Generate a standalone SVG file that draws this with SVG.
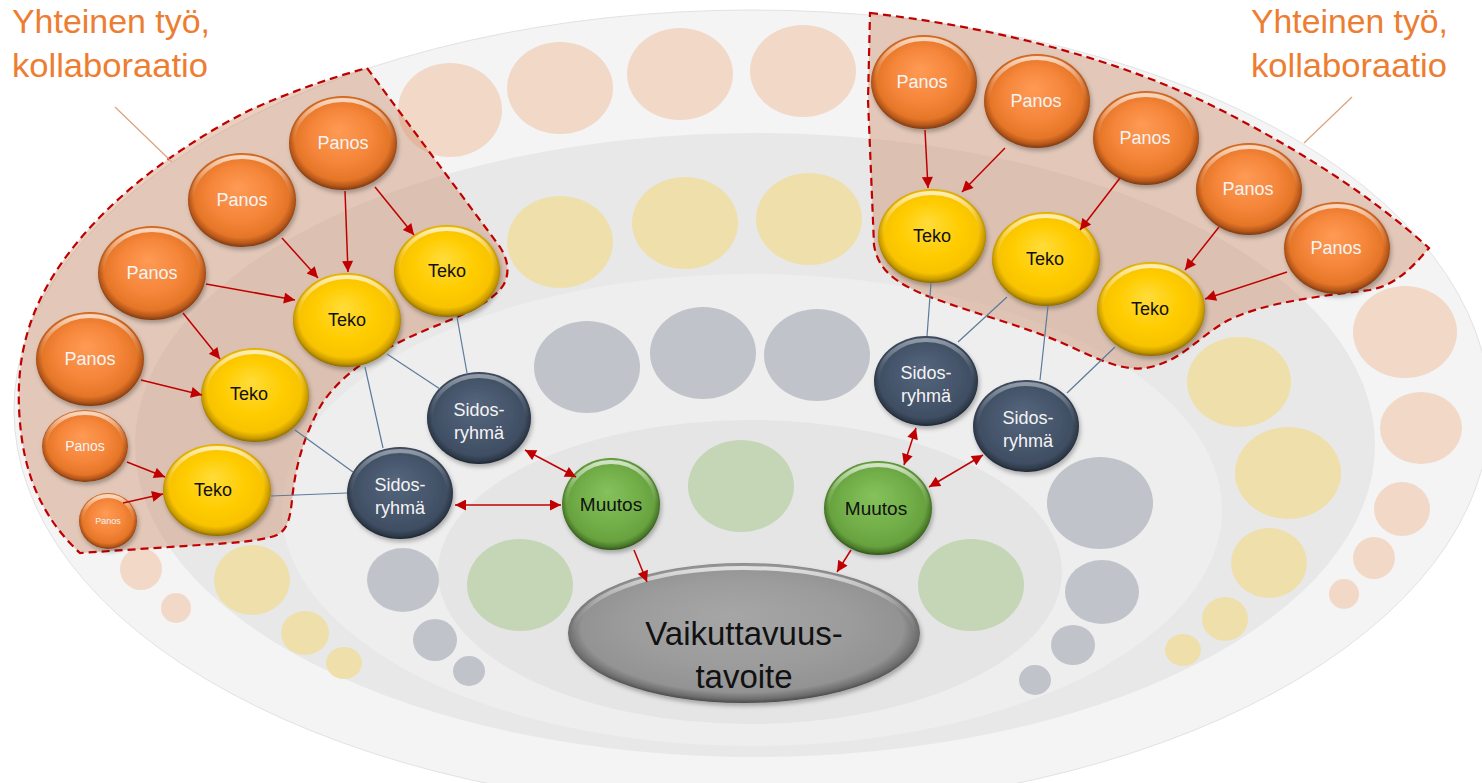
<svg xmlns="http://www.w3.org/2000/svg" width="1482" height="783" viewBox="0 0 1482 783">
<defs>
<style>
.lbl{font-family:"Liberation Sans",Arial,sans-serif;text-anchor:middle}
.w{fill:#f4f4f4}
.k{fill:#111}
.pan{fill:url(#gOr)}
.tek{fill:url(#gYe)}
.sid{fill:url(#gSl)}
.muu{fill:url(#gGr)}
.rim{fill:none;stroke:url(#rim);stroke-width:4}
.ar{stroke:#c00000;stroke-width:1.5;fill:none;marker-end:url(#ah)}
.dar{stroke:#c00000;stroke-width:1.5;fill:none;marker-end:url(#ah);marker-start:url(#ah)}
.ln{stroke:#5b7b9a;stroke-width:1.2;fill:none}
.reg{fill:#c8825a;fill-opacity:0.38;stroke:#c00000;stroke-width:2.2;stroke-dasharray:8 5}
.pe{fill:#f2d8c7}
.ye{fill:#eedfab}
.gy{fill:#c0c4ca}
.gn{fill:#c4d6b6}
.co{font-family:"Liberation Sans",Arial,sans-serif;font-size:34px;fill:#ed7d31}
</style>
<radialGradient id="gOr" cx="50%" cy="48%" r="52%" fx="46%" fy="36%">
<stop offset="0" stop-color="#ff9a55"/><stop offset="0.55" stop-color="#f5863a"/><stop offset="0.84" stop-color="#e57628"/><stop offset="0.94" stop-color="#b5561a"/><stop offset="1" stop-color="#7a3a10"/>
</radialGradient>
<radialGradient id="gYe" cx="50%" cy="48%" r="52%" fx="46%" fy="36%">
<stop offset="0" stop-color="#ffdc3a"/><stop offset="0.55" stop-color="#ffcc00"/><stop offset="0.84" stop-color="#f8c300"/><stop offset="0.94" stop-color="#c89a00"/><stop offset="1" stop-color="#8a6a00"/>
</radialGradient>
<radialGradient id="gSl" cx="50%" cy="48%" r="52%" fx="46%" fy="36%">
<stop offset="0" stop-color="#56667c"/><stop offset="0.6" stop-color="#46566c"/><stop offset="0.86" stop-color="#3f4e62"/><stop offset="0.95" stop-color="#2e3a4a"/><stop offset="1" stop-color="#1e2630"/>
</radialGradient>
<radialGradient id="gGr" cx="50%" cy="48%" r="52%" fx="46%" fy="36%">
<stop offset="0" stop-color="#86c25c"/><stop offset="0.6" stop-color="#72ae48"/><stop offset="0.86" stop-color="#67a23f"/><stop offset="0.95" stop-color="#4a7a2a"/><stop offset="1" stop-color="#2f5219"/>
</radialGradient>
<radialGradient id="gGy" cx="50%" cy="48%" r="52%" fx="46%" fy="36%">
<stop offset="0" stop-color="#a6a6a6"/><stop offset="0.6" stop-color="#9c9c9c"/><stop offset="0.88" stop-color="#939393"/><stop offset="0.96" stop-color="#6c6c6c"/><stop offset="1" stop-color="#4a4a4a"/>
</radialGradient>
<linearGradient id="rim" x1="0" y1="0" x2="0" y2="1">
<stop offset="0" stop-color="#fff" stop-opacity="0.7"/><stop offset="0.3" stop-color="#fff" stop-opacity="0.15"/><stop offset="0.5" stop-color="#fff" stop-opacity="0"/><stop offset="1" stop-color="#fff" stop-opacity="0"/>
</linearGradient>
<filter id="sh" x="-20%" y="-20%" width="140%" height="150%">
<feDropShadow dx="1.5" dy="3" stdDeviation="2" flood-color="#000" flood-opacity="0.28"/>
</filter>
<marker id="ah" viewBox="0 0 10 10" refX="10" refY="5" markerWidth="13" markerHeight="11" markerUnits="userSpaceOnUse" orient="auto-start-reverse">
<path d="M0,0 L10,5 L0,10 z" fill="#c00000"/>
</marker>
</defs>

<rect width="1482" height="783" fill="#ffffff"/>

<g id="background">
<ellipse cx="752" cy="410" rx="738" ry="400" fill="#f4f4f4" stroke="#e2e2e2" stroke-width="1"/>
<ellipse cx="755" cy="445" rx="620" ry="312" fill="#e8e8e8"/>
<ellipse cx="752" cy="510" rx="470" ry="236" fill="#eeeeee"/>
<ellipse cx="750" cy="572" rx="312" ry="152" fill="#e5e5e5"/>
<ellipse class="pe" cx="450" cy="110" rx="52" ry="47"/>
<ellipse class="pe" cx="560" cy="88" rx="53" ry="46"/>
<ellipse class="pe" cx="680" cy="74" rx="53" ry="46"/>
<ellipse class="pe" cx="803" cy="71" rx="53" ry="46"/>
<ellipse class="pe" cx="1405" cy="332" rx="52" ry="46"/>
<ellipse class="pe" cx="1421" cy="428" rx="41" ry="36"/>
<ellipse class="pe" cx="1402" cy="509" rx="28" ry="27"/>
<ellipse class="pe" cx="1374" cy="558" rx="21" ry="21"/>
<ellipse class="pe" cx="1344" cy="594" rx="15" ry="15"/>
<ellipse class="pe" cx="141" cy="569" rx="21" ry="21"/>
<ellipse class="pe" cx="176" cy="608" rx="15" ry="15"/>
<ellipse class="ye" cx="560" cy="242" rx="53" ry="46"/>
<ellipse class="ye" cx="685" cy="223" rx="53" ry="46"/>
<ellipse class="ye" cx="809" cy="219" rx="53" ry="46"/>
<ellipse class="ye" cx="1239" cy="382" rx="52" ry="45"/>
<ellipse class="ye" cx="1288" cy="473" rx="53" ry="46"/>
<ellipse class="ye" cx="1269" cy="563" rx="38" ry="35"/>
<ellipse class="ye" cx="1225" cy="619" rx="23" ry="22"/>
<ellipse class="ye" cx="1183" cy="650" rx="18" ry="16"/>
<ellipse class="ye" cx="252" cy="580" rx="38" ry="35"/>
<ellipse class="ye" cx="305" cy="633" rx="24" ry="22"/>
<ellipse class="ye" cx="344" cy="663" rx="18" ry="16"/>
<ellipse class="gy" cx="587" cy="367" rx="53" ry="46"/>
<ellipse class="gy" cx="703" cy="353" rx="53" ry="46"/>
<ellipse class="gy" cx="817" cy="355" rx="53" ry="46"/>
<ellipse class="gy" cx="1100" cy="503" rx="53" ry="46"/>
<ellipse class="gy" cx="1102" cy="592" rx="37" ry="32"/>
<ellipse class="gy" cx="1073" cy="645" rx="22" ry="20"/>
<ellipse class="gy" cx="1035" cy="680" rx="16" ry="15"/>
<ellipse class="gy" cx="403" cy="580" rx="36" ry="32"/>
<ellipse class="gy" cx="435" cy="640" rx="22" ry="21"/>
<ellipse class="gy" cx="469" cy="671" rx="16" ry="15"/>
<ellipse class="gn" cx="520" cy="585" rx="53" ry="46"/>
<ellipse class="gn" cx="741" cy="486" rx="53" ry="46"/>
<ellipse class="gn" cx="971" cy="585" rx="53" ry="46"/>
</g>

<g id="region-left">
<path class="reg" d="M367,68 L500,247 C507,258 510,270 505,282 C498,298 470,312 443,323 C400,340 345,365 320,407 C302,440 295,470 292,500 C290,520 287,530 277,535 C262,541 232,543 200,545 L80,553 C55,530 30,495 22,440 C15,390 18,340 45,290 C85,215 170,150 250,110 C290,92 330,78 367,68 Z"/>
</g>
<g id="region-right">
<path class="reg" d="M870,13 C1000,28 1120,60 1217,108 C1300,150 1370,195 1429,248 C1410,270 1395,285 1370,290 C1320,296 1260,303 1225,322 C1195,340 1180,362 1146,368 C1120,372 1090,355 1060,342 C1020,325 970,312 930,297 C895,283 878,270 874,245 L868,100 Z"/>
</g>

<g id="callouts">
<line x1="115" y1="107" x2="172" y2="162" stroke="#dda27c" stroke-width="1.2"/>
<line x1="1352" y1="97" x2="1304" y2="143" stroke="#dda27c" stroke-width="1.2"/>
<text class="co" x="12" y="33" textLength="198" lengthAdjust="spacingAndGlyphs">Yhteinen työ,</text>
<text class="co" x="12" y="77" textLength="196" lengthAdjust="spacingAndGlyphs">kollaboraatio</text>
<text class="co" x="1251" y="33" textLength="197" lengthAdjust="spacingAndGlyphs">Yhteinen työ,</text>
<text class="co" x="1251" y="77" textLength="196" lengthAdjust="spacingAndGlyphs">kollaboraatio</text>
</g>

<g id="panos-l1"><ellipse class="pan" cx="343" cy="143" rx="54" ry="47" filter="url(#sh)"/><ellipse class="rim" cx="343" cy="143" rx="50" ry="43"/><text class="lbl w" x="343" y="149" font-size="18">Panos</text></g>
<g id="panos-l2"><ellipse class="pan" cx="242" cy="200" rx="54" ry="47" filter="url(#sh)"/><ellipse class="rim" cx="242" cy="200" rx="50" ry="43"/><text class="lbl w" x="242" y="206" font-size="18">Panos</text></g>
<g id="panos-l3"><ellipse class="pan" cx="152" cy="273" rx="54" ry="47" filter="url(#sh)"/><ellipse class="rim" cx="152" cy="273" rx="50" ry="43"/><text class="lbl w" x="152" y="279" font-size="18">Panos</text></g>
<g id="panos-l4"><ellipse class="pan" cx="90" cy="359" rx="54" ry="47" filter="url(#sh)"/><ellipse class="rim" cx="90" cy="359" rx="50" ry="43"/><text class="lbl w" x="90" y="365" font-size="18">Panos</text></g>
<g id="panos-l5"><ellipse class="pan" cx="85" cy="446" rx="43" ry="36" filter="url(#sh)"/><ellipse class="rim" cx="85" cy="446" rx="40" ry="33"/><text class="lbl w" x="85" y="451" font-size="14">Panos</text></g>
<g id="panos-l6"><ellipse class="pan" cx="108" cy="521" rx="29" ry="28" filter="url(#sh)"/><ellipse class="rim" cx="108" cy="521" rx="26" ry="25" stroke-width="3"/><text class="lbl w" x="108" y="524" font-size="9">Panos</text></g>

<g id="teko-l1"><ellipse class="tek" cx="447" cy="271" rx="53" ry="46" filter="url(#sh)"/><ellipse class="rim" cx="447" cy="271" rx="49" ry="42"/><text class="lbl k" x="447" y="277" font-size="18">Teko</text></g>
<g id="teko-l2"><ellipse class="tek" cx="347" cy="320" rx="54" ry="47" filter="url(#sh)"/><ellipse class="rim" cx="347" cy="320" rx="50" ry="43"/><text class="lbl k" x="347" y="326" font-size="18">Teko</text></g>
<g id="teko-l3"><ellipse class="tek" cx="255" cy="395" rx="54" ry="47" filter="url(#sh)"/><ellipse class="rim" cx="255" cy="395" rx="50" ry="43"/><text class="lbl k" x="249" y="400" font-size="18">Teko</text></g>
<g id="teko-l4"><ellipse class="tek" cx="217" cy="490" rx="54" ry="46" filter="url(#sh)"/><ellipse class="rim" cx="217" cy="490" rx="50" ry="42"/><text class="lbl k" x="213" y="496" font-size="18">Teko</text></g>

<g id="sidos-l1"><ellipse class="sid" cx="479" cy="418" rx="52" ry="46" filter="url(#sh)"/><ellipse class="rim" cx="479" cy="418" rx="48" ry="42" opacity="0.6"/><text class="lbl w" x="479" y="416" font-size="18">Sidos-</text><text class="lbl w" x="479" y="439" font-size="18">ryhmä</text></g>
<g id="sidos-l2"><ellipse class="sid" cx="400" cy="493" rx="53" ry="46" filter="url(#sh)"/><ellipse class="rim" cx="400" cy="493" rx="49" ry="42" opacity="0.6"/><text class="lbl w" x="400" y="491" font-size="18">Sidos-</text><text class="lbl w" x="400" y="514" font-size="18">ryhmä</text></g>

<g id="muutos-l"><ellipse class="muu" cx="611" cy="504" rx="49" ry="46" filter="url(#sh)"/><ellipse class="rim" cx="611" cy="504" rx="45" ry="42"/><text class="lbl k" x="611" y="511" font-size="19">Muutos</text></g>
<g id="muutos-r"><ellipse class="muu" cx="878" cy="508" rx="54" ry="47" filter="url(#sh)"/><ellipse class="rim" cx="878" cy="508" rx="50" ry="43"/><text class="lbl k" x="876" y="515" font-size="19">Muutos</text></g>

<g id="vaikuttavuustavoite"><ellipse cx="744" cy="633" rx="176" ry="70" fill="url(#gGy)" filter="url(#sh)"/><ellipse class="rim" cx="744" cy="633" rx="171" ry="65"/><text class="lbl k" x="744" y="645" font-size="33">Vaikuttavuus-</text><text class="lbl k" x="744" y="688" font-size="33">tavoite</text></g>

<g id="panos-r1"><ellipse class="pan" cx="924" cy="82" rx="53" ry="47" filter="url(#sh)"/><ellipse class="rim" cx="924" cy="82" rx="49" ry="43"/><text class="lbl w" x="922" y="88" font-size="18">Panos</text></g>
<g id="panos-r2"><ellipse class="pan" cx="1037" cy="101" rx="53" ry="47" filter="url(#sh)"/><ellipse class="rim" cx="1037" cy="101" rx="49" ry="43"/><text class="lbl w" x="1036" y="107" font-size="18">Panos</text></g>
<g id="panos-r3"><ellipse class="pan" cx="1146" cy="138" rx="53" ry="47" filter="url(#sh)"/><ellipse class="rim" cx="1146" cy="138" rx="49" ry="43"/><text class="lbl w" x="1145" y="144" font-size="18">Panos</text></g>
<g id="panos-r4"><ellipse class="pan" cx="1249" cy="189" rx="53" ry="46" filter="url(#sh)"/><ellipse class="rim" cx="1249" cy="189" rx="49" ry="42"/><text class="lbl w" x="1248" y="195" font-size="18">Panos</text></g>
<g id="panos-r5"><ellipse class="pan" cx="1337" cy="248" rx="53" ry="46" filter="url(#sh)"/><ellipse class="rim" cx="1337" cy="248" rx="49" ry="42"/><text class="lbl w" x="1336" y="254" font-size="18">Panos</text></g>

<g id="teko-r1"><ellipse class="tek" cx="932" cy="236" rx="54" ry="47" filter="url(#sh)"/><ellipse class="rim" cx="932" cy="236" rx="50" ry="43"/><text class="lbl k" x="932" y="242" font-size="18">Teko</text></g>
<g id="teko-r2"><ellipse class="tek" cx="1046" cy="259" rx="54" ry="47" filter="url(#sh)"/><ellipse class="rim" cx="1046" cy="259" rx="50" ry="43"/><text class="lbl k" x="1045" y="265" font-size="18">Teko</text></g>
<g id="teko-r3"><ellipse class="tek" cx="1151" cy="309" rx="54" ry="47" filter="url(#sh)"/><ellipse class="rim" cx="1151" cy="309" rx="50" ry="43"/><text class="lbl k" x="1150" y="315" font-size="18">Teko</text></g>

<g id="sidos-r1"><ellipse class="sid" cx="926" cy="381" rx="52" ry="45" filter="url(#sh)"/><ellipse class="rim" cx="926" cy="381" rx="48" ry="41" opacity="0.6"/><text class="lbl w" x="926" y="379" font-size="18">Sidos-</text><text class="lbl w" x="926" y="402" font-size="18">ryhmä</text></g>
<g id="sidos-r2"><ellipse class="sid" cx="1026" cy="426" rx="53" ry="46" filter="url(#sh)"/><ellipse class="rim" cx="1026" cy="426" rx="49" ry="42" opacity="0.6"/><text class="lbl w" x="1028" y="424" font-size="18">Sidos-</text><text class="lbl w" x="1028" y="447" font-size="18">ryhmä</text></g>

<g id="connectors">
<line class="ar" x1="345" y1="191" x2="348" y2="272"/>
<line class="ar" x1="375" y1="187" x2="414" y2="235"/>
<line class="ar" x1="282" y1="238" x2="318" y2="278"/>
<line class="ar" x1="206" y1="284" x2="295" y2="300"/>
<line class="ar" x1="183" y1="313" x2="220" y2="359"/>
<line class="ar" x1="141" y1="380" x2="202" y2="395"/>
<line class="ar" x1="127" y1="462" x2="165" y2="477"/>
<line class="ar" x1="123" y1="503" x2="163" y2="494"/>
<line class="ln" x1="457" y1="317" x2="467" y2="373"/>
<line class="ln" x1="387" y1="354" x2="440" y2="389"/>
<line class="ln" x1="365" y1="367" x2="383" y2="448"/>
<line class="ln" x1="295" y1="430" x2="353" y2="472"/>
<line class="ln" x1="271" y1="496" x2="347" y2="493"/>
<line class="dar" x1="525" y1="450" x2="576" y2="477"/>
<line class="dar" x1="455" y1="505" x2="561" y2="505"/>
<line class="ar" x1="634" y1="550" x2="647" y2="582"/>
<line class="ar" x1="851" y1="550" x2="837" y2="572"/>
<line class="dar" x1="916" y1="428" x2="904" y2="465"/>
<line class="dar" x1="983" y1="455" x2="929" y2="487"/>
<line class="ar" x1="925" y1="130" x2="928" y2="188"/>
<line class="ar" x1="1005" y1="148" x2="962" y2="192"/>
<line class="ar" x1="1120" y1="178" x2="1080" y2="230"/>
<line class="ar" x1="1219" y1="227" x2="1185" y2="270"/>
<line class="ar" x1="1287" y1="272" x2="1205" y2="299"/>
<line class="ln" x1="931" y1="283" x2="927" y2="336"/>
<line class="ln" x1="1007" y1="297" x2="958" y2="342"/>
<line class="ln" x1="1048" y1="306" x2="1040" y2="380"/>
<line class="ln" x1="1115" y1="347" x2="1067" y2="393"/>
</g>
</svg>
